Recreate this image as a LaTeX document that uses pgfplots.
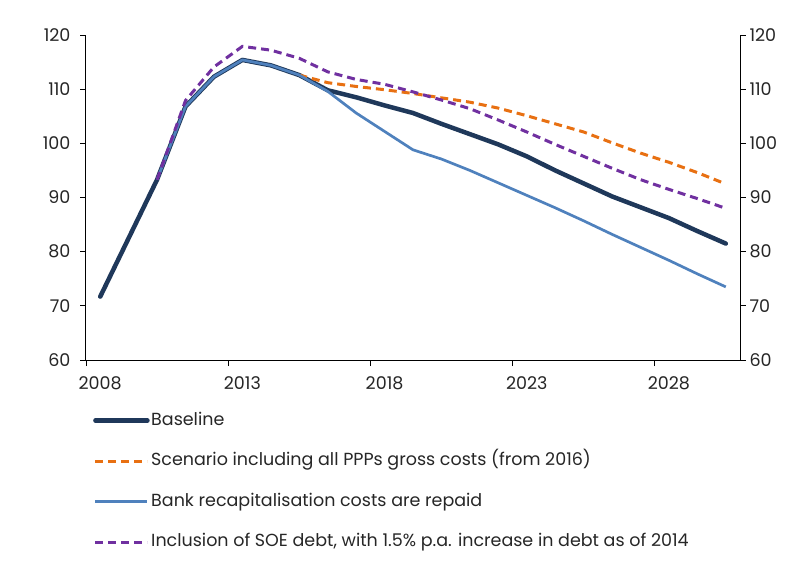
\documentclass[border=0pt]{standalone}
\usepackage{pgfplots}
\pgfplotsset{compat=1.18}
\usepackage{fontspec}
\setmainfont{Poppins}
\definecolor{navy}{RGB}{31,56,90}
\definecolor{orng}{RGB}{232,112,18}
\definecolor{lblue}{RGB}{79,129,189}
\definecolor{purp}{RGB}{112,48,160}
\begin{document}
\begin{tikzpicture}
\begin{axis}[
  name=ax,
  scale only axis, width=654pt, height=325pt,
  xmin=2007.5, xmax=2030.5, ymin=60, ymax=120,
  axis lines*=left,
  axis line style={line width=1pt, black},
  tick align=outside,
  major tick length=6pt,
  tick style={line width=0.8pt, black},
  xtick={2007.5,2012.5,2017.5,2022.5,2027.5},
  xticklabels={2008,2013,2018,2023,2028},
  x tick label style={xshift=14.2pt, yshift=-7pt},
  y tick label style={xshift=-6pt},
  ytick={60,70,...,120},
  /pgf/number format/assume math mode=true,
  /pgf/number format/1000 sep={},
  tick label style={font=\fontsize{17.5}{20}\selectfont, text=black!85},
  clip=false,
  legend style={at={(0.0107,-0.155)}, anchor=north west, draw=none, fill=none,
    font=\fontsize{17.5}{20}\selectfont, row sep=20.5pt, inner sep=0pt,
    nodes={inner sep=1.5pt, text height=13pt, text depth=4pt, text=black!85}},
  legend cell align=left,
  legend image code/.code={\draw[#1] (0pt,0pt) -- (52pt,0pt);},
]
\addplot[navy, line width=4.5pt, line cap=round, line join=round] coordinates {
(2008,71.7)(2009,82.5)(2010,93.3)(2011,106.8)(2012,112.3)(2013,115.4)(2014,114.4)(2015,112.6)(2016,109.8)(2017,108.5)(2018,107.0)(2019,105.6)(2020,103.6)(2021,101.7)(2022,99.8)(2023,97.6)(2024,95.0)(2025,92.6)(2026,90.2)(2027,88.2)(2028,86.2)(2029,83.8)(2030,81.5)};
\addlegendentry{Baseline}
\addplot[orng, line width=3pt, dash pattern=on 8pt off 5pt] coordinates {
(2015,112.6)(2016,111.2)(2017,110.5)(2018,109.9)(2019,109.2)(2020,108.4)(2021,107.6)(2022,106.5)(2023,105.1)(2024,103.6)(2025,102.1)(2026,100.1)(2027,98.2)(2028,96.5)(2029,94.6)(2030,92.5)};
\addlegendentry{Scenario including all PPPs gross costs (from 2016)}
\addplot[lblue, line width=2.7pt, line join=round] coordinates {
(2010,93.3)(2011,106.8)(2012,112.3)(2013,115.4)(2014,114.4)(2015,112.6)(2016,109.6)(2017,105.6)(2018,102.2)(2019,98.8)(2020,97.1)(2021,95.0)(2022,92.7)(2023,90.4)(2024,88.1)(2025,85.7)(2026,83.2)(2027,80.8)(2028,78.4)(2029,75.9)(2030,73.5)};
\addlegendentry{Bank recapitalisation costs are repaid}
\addplot[purp, line width=3pt, dash pattern=on 8pt off 5pt] coordinates {
(2010,93.3)(2011,107.9)(2012,114.1)(2013,117.9)(2014,117.2)(2015,115.7)(2016,113.2)(2017,111.8)(2018,110.9)(2019,109.5)(2020,108.0)(2021,106.4)(2022,104.3)(2023,102.1)(2024,99.8)(2025,97.6)(2026,95.4)(2027,93.3)(2028,91.5)(2029,89.8)(2030,88.0)};
\addlegendentry{Inclusion of SOE debt, with 1.5\% p.a. increase in debt as of 2014}
\end{axis}
\begin{axis}[
  scale only axis, width=654pt, height=325pt,
  xmin=2007.5, xmax=2030.5, ymin=60, ymax=120,
  axis x line=none,
  axis y line*=right,
  axis line style={line width=1pt, black},
  tick align=outside,
  major tick length=6pt,
  tick style={line width=0.8pt, black},
  ytick={60,70,...,120},
  /pgf/number format/assume math mode=true,
  tick label style={font=\fontsize{17.5}{20}\selectfont, text=black!85},
]
\addplot[draw=none] coordinates {(2008,60)};
\end{axis}
\path ([shift={(-86pt,-204pt)}]ax.south west) rectangle ([shift={(52pt,35pt)}]ax.north east);
\end{tikzpicture}
\end{document}
